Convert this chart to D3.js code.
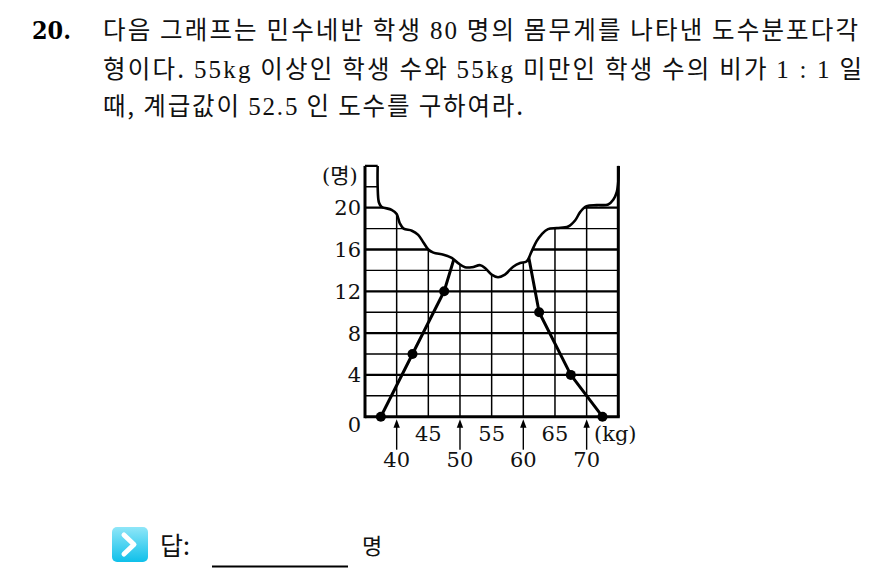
<!DOCTYPE html>
<html><head><meta charset="utf-8">
<script src="https://cdn.jsdelivr.net/npm/d3@7"></script>
<style>body{margin:0;background:#fff}svg{display:block}</style>
</head><body>
<svg id="c" width="884" height="570"></svg>
<script>
// Weight classes (class marks, kg) and number of students in each class
const classMarks = [37.5, 42.5, 47.5, 52.5, 57.5, 62.5, 67.5, 72.5];
const counts = [0, 6, 12, 22, 26, 10, 4, 0];

// Axis labels
const yTickLabels = [0, 4, 8, 12, 16, 20];
const xUpperLabels = [45, 55, 65];
const xArrowLabels = [40, 50, 60, 70];
const xGridLines = [40, 45, 50, 55, 60, 65, 70];
const yGridLines = [2, 4, 6, 8, 10, 12, 14, 16, 18, 20, 22, 24];

// Edge of the torn-off upper part of the graph paper (kg, count)
const tornEdge = [
  [37.0, 24.0], [37.0, 22.0], [37.2, 20.5], [37.6, 20.1], [39.2, 19.8], [40.0, 19.4],
  [40.5, 18.5], [41.1, 18.0], [42.4, 17.8], [43.4, 17.4], [44.2, 16.7], [45.0, 16.0],
  [45.8, 15.7], [47.4, 15.5], [48.7, 15.2], [49.7, 14.7], [50.8, 14.3], [51.9, 14.3],
  [53.2, 14.5], [54.0, 14.2], [55.0, 13.6], [56.0, 13.35], [57.1, 13.6], [58.4, 14.35],
  [59.5, 14.7], [60.5, 14.85], [61.3, 15.8], [62.1, 16.8], [62.9, 17.45], [63.9, 17.95],
  [65.3, 18.05], [67.1, 18.2], [68.2, 18.8], [69.0, 19.6], [70.0, 20.15], [71.6, 20.25],
  [73.4, 20.3], [74.2, 20.75], [74.75, 21.5], [75.0, 22.5], [75.05, 24.0]
];

// Question text: [text, isNumber]
const questionLines = [
  [["다음 그래프는 민수네반 학생 ", false], ["80", true], [" 명의 몸무게를 나타낸 도수분포다각", false]],
  [["형이다. ", false], ["55kg", true], [" 이상인 학생 수와 ", false], ["55kg", true], [" 미만인 학생 수의 비가 ", false], ["1 : 1", true], [" 일", false]],
  [["때, 계급값이 ", false], ["52.5", true], [" 인 도수를 구하여라.", false]]
];
const questionNumber = "20.";
const answerLabel = "답:";
const answerUnit = "명";

const KO = "'Noto Sans CJK KR', sans-serif";
const SERIF = "'DejaVu Serif', serif";
const LSERIF = "'Liberation Serif', serif";

const svg = d3.select("#c");
const defs = svg.append("defs");

// ---------- question text ----------
svg.append("text")
  .attr("x", 32).attr("y", 39)
  .attr("font-family", SERIF).attr("font-weight", "bold").attr("font-size", 25)
  .attr("textLength", 39).attr("lengthAdjust", "spacingAndGlyphs")
  .text(questionNumber);

const lineLayout = [
  { y: 39, w: 755 },
  { y: 78, w: 759 },
  { y: 115, w: 420 }
];
questionLines.forEach((segs, i) => {
  const t = svg.append("text")
    .attr("x", 103).attr("y", lineLayout[i].y)
    .attr("fill", "#111")
    .attr("textLength", lineLayout[i].w).attr("lengthAdjust", "spacing")
    .attr("xml:space", "preserve");
  segs.forEach(([s, num]) => {
    t.append("tspan")
      .attr("font-family", num ? LSERIF : KO)
      .attr("font-size", num ? 25 : 24.5)
      .text(s);
  });
});

// ---------- chart ----------
const x = d3.scaleLinear().domain([35, 75]).range([365, 618.3]);
const y = d3.scaleLinear().domain([0, 24]).range([416.7, 165.9]);

const chart = svg.append("g");

// grid
chart.append("g").selectAll("line").data(yGridLines).join("line")
  .attr("x1", x(35)).attr("x2", x(75))
  .attr("y1", d => y(d)).attr("y2", d => y(d))
  .attr("stroke", "#000")
  .attr("stroke-width", d => d % 4 === 0 ? 2.3 : 1.4);

chart.append("g").selectAll("line").data(xGridLines).join("line")
  .attr("x1", d => x(d)).attr("x2", d => x(d))
  .attr("y1", y(0)).attr("y2", y(24))
  .attr("stroke", "#000").attr("stroke-width", 1.5);

// torn region
const edgeLine = d3.line().x(d => x(d[0])).y(d => y(d[1]))
  .curve(d3.curveCatmullRom.alpha(0.5));
const edgePath = edgeLine(tornEdge);

chart.append("path")
  .attr("d", edgePath + `L${x(75.6)},${y(26)}L${x(37)},${y(26)}Z`)
  .attr("fill", "#fff");

// clip region: paper below the torn edge
defs.append("clipPath").attr("id", "paper")
  .append("path")
  .attr("d", edgePath + `L${x(76)},${y(24)}L${x(76)},${y(-3)}L${x(34)},${y(-3)}L${x(34)},${y(24)}Z`);

// axes frame
chart.append("line").attr("x1", x(35)).attr("x2", x(35)).attr("y1", y(0) + 1.5).attr("y2", y(24))
  .attr("stroke", "#000").attr("stroke-width", 3);
chart.append("line").attr("x1", x(35)).attr("x2", x(75) + 1.5).attr("y1", y(0)).attr("y2", y(0))
  .attr("stroke", "#000").attr("stroke-width", 3);
chart.append("line").attr("x1", x(75)).attr("x2", x(75)).attr("y1", y(0)).attr("y2", y(24))
  .attr("stroke", "#000").attr("stroke-width", 3);

// frequency polygon
const pts = classMarks.map((m, i) => [m, counts[i]]);
const poly = chart.append("g").attr("clip-path", "url(#paper)");
poly.append("path")
  .datum(pts)
  .attr("d", d3.line().x(d => x(d[0])).y(d => y(d[1])))
  .attr("fill", "none").attr("stroke", "#000").attr("stroke-width", 3)
  .attr("stroke-linejoin", "round");
poly.selectAll("circle").data(pts).join("circle")
  .attr("cx", d => x(d[0])).attr("cy", d => y(d[1])).attr("r", 5)
  .attr("fill", "#000");

// torn edge outline
chart.append("path").attr("d", edgePath)
  .attr("fill", "none").attr("stroke", "#000").attr("stroke-width", 2.6)
  .attr("stroke-linejoin", "round");

// y labels
chart.append("g").selectAll("text").data(yTickLabels).join("text")
  .attr("x", 361).attr("y", d => y(d) + (d === 0 ? 15 : 7.5))
  .attr("text-anchor", "end")
  .attr("font-family", SERIF).attr("font-size", 21).attr("fill", "#111")
  .text(d => d);

chart.append("text")
  .attr("x", 322).attr("y", 183)
  .attr("font-size", 21).attr("fill", "#111")
  .call(t => {
    t.append("tspan").attr("font-family", SERIF).text("(");
    t.append("tspan").attr("font-family", KO).text("명");
    t.append("tspan").attr("font-family", SERIF).text(")");
  });

// x labels
chart.append("g").selectAll("text").data(xUpperLabels).join("text")
  .attr("x", d => x(d)).attr("y", y(0) + 24)
  .attr("text-anchor", "middle")
  .attr("font-family", SERIF).attr("font-size", 21).attr("fill", "#111")
  .text(d => d);

chart.append("text")
  .attr("x", 594).attr("y", y(0) + 24)
  .attr("font-family", SERIF).attr("font-size", 21).attr("fill", "#111")
  .text("(kg)");

const arrows = chart.append("g").selectAll("g").data(xArrowLabels).join("g");
arrows.append("line")
  .attr("x1", d => x(d)).attr("x2", d => x(d))
  .attr("y1", y(0) + 33).attr("y2", y(0) + 6)
  .attr("stroke", "#000").attr("stroke-width", 1.4);
arrows.append("path")
  .attr("d", d => `M${x(d)},${y(0) + 2.5}L${x(d) - 3.2},${y(0) + 11}L${x(d) + 3.2},${y(0) + 11}Z`)
  .attr("fill", "#000");
arrows.append("text")
  .attr("x", d => x(d)).attr("y", y(0) + 50.5)
  .attr("text-anchor", "middle")
  .attr("font-family", SERIF).attr("font-size", 21).attr("fill", "#111")
  .text(d => d);

// ---------- answer row ----------
const grad = defs.append("linearGradient").attr("id", "btn").attr("x1", 0).attr("y1", 0).attr("x2", 0).attr("y2", 1);
grad.append("stop").attr("offset", 0).attr("stop-color", "#8fe6f8");
grad.append("stop").attr("offset", 1).attr("stop-color", "#0fc0ea");

svg.append("rect").attr("x", 112).attr("y", 527).attr("width", 36).attr("height", 35).attr("rx", 5)
  .attr("fill", "url(#btn)");
svg.append("path").attr("d", "M124,535L134,544.5L124,554")
  .attr("fill", "none").attr("stroke", "#fff").attr("stroke-width", 5)
  .attr("stroke-linecap", "round").attr("stroke-linejoin", "round");

svg.append("text").attr("x", 160).attr("y", 555)
  .attr("font-family", KO).attr("font-size", 25).attr("fill", "#111")
  .text(answerLabel);
svg.append("line").attr("x1", 212).attr("x2", 348).attr("y1", 566.5).attr("y2", 566.5)
  .attr("stroke", "#000").attr("stroke-width", 2);
svg.append("text").attr("x", 362).attr("y", 554)
  .attr("font-family", KO).attr("font-size", 22).attr("fill", "#111")
  .text(answerUnit);
</script>
</body></html>
